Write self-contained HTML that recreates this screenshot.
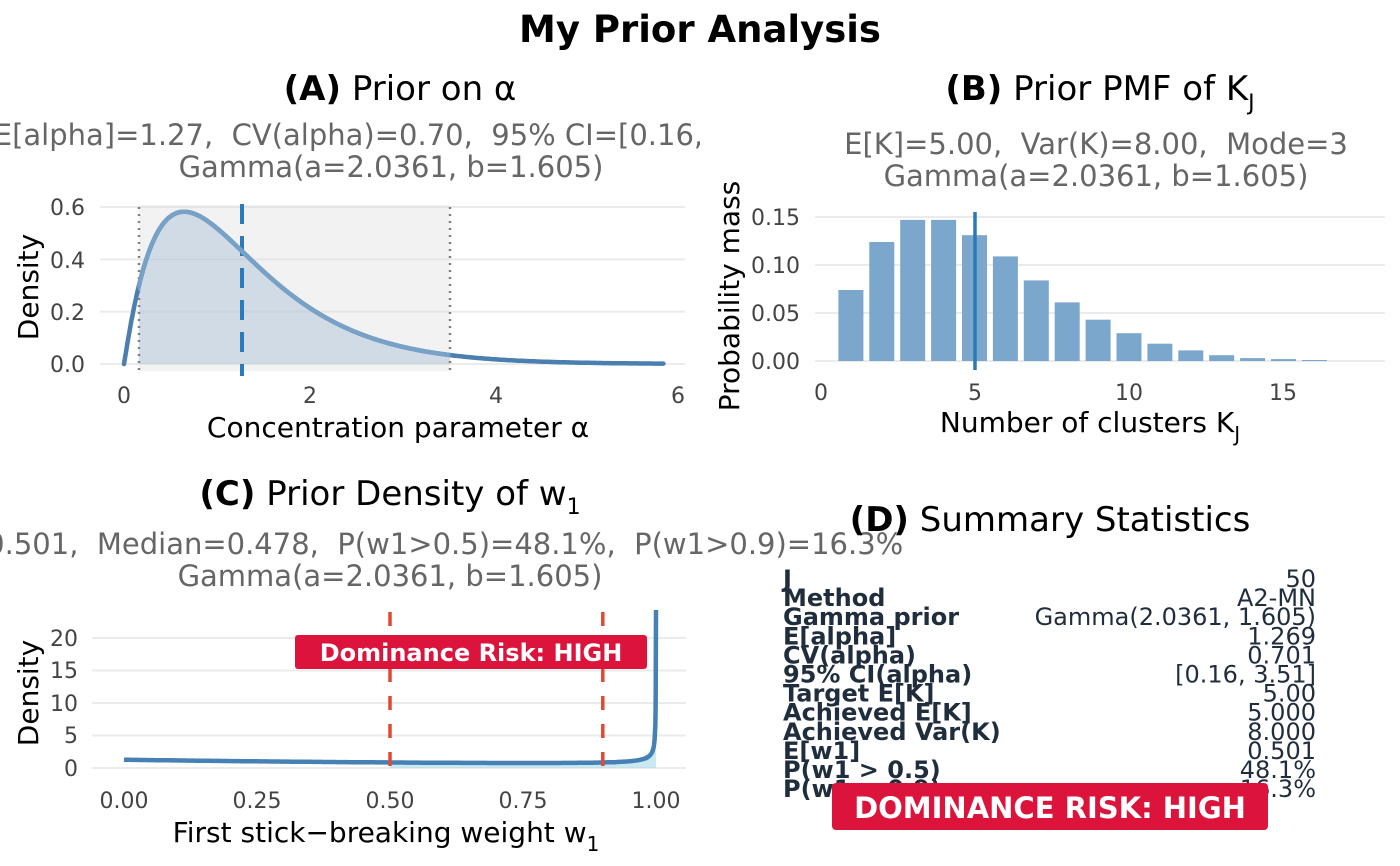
<!DOCTYPE html>
<html><head><meta charset="utf-8"><style>
html,body{margin:0;padding:0;background:#fff;}
svg{display:block;font-family:"DejaVu Sans","Liberation Sans",sans-serif;}
text{white-space:pre;}
.tk{font-size:22px;fill:#444;}
.ax{font-size:28px;fill:#000;}
.pt{font-size:34px;fill:#000;}
.st{font-size:29px;fill:#666;}
.gr{stroke:#ebebeb;stroke-width:2;}
.dl{font-size:24px;fill:#1f2d3d;}
</style></head><body>
<svg id="s" width="1400" height="866" viewBox="0 0 1400 866" xmlns="http://www.w3.org/2000/svg">
<defs>
<clipPath id="cl"><rect x="0" y="0" width="700" height="866"/></clipPath>
</defs>
<text x="700" y="42" text-anchor="middle" font-size="37" font-weight="bold">My Prior Analysis</text>

<!-- Panel A -->
<text class="pt" x="400" y="100" text-anchor="middle"><tspan font-weight="bold">(A)</tspan> Prior on α</text>
<g clip-path="url(#cl)">
<text class="st" x="391" y="145" text-anchor="middle">E[alpha]=1.27,  CV(alpha)=0.70,  95% CI=[0.16, 3.51]</text>
</g>
<text class="st" x="391" y="177" text-anchor="middle">Gamma(a=2.0361, b=1.605)</text>
<g id="gA"></g>
<text class="tk" x="85" y="215" text-anchor="end">0.6</text>
<text class="tk" x="85" y="268" text-anchor="end">0.4</text>
<text class="tk" x="85" y="320" text-anchor="end">0.2</text>
<text class="tk" x="85" y="372" text-anchor="end">0.0</text>
<text class="tk" x="124" y="403" text-anchor="middle">0</text>
<text class="tk" x="310" y="403" text-anchor="middle">2</text>
<text class="tk" x="496" y="403" text-anchor="middle">4</text>
<text class="tk" x="678" y="403" text-anchor="middle">6</text>
<text class="ax" x="398" y="437" text-anchor="middle">Concentration parameter α</text>
<text class="ax" font-size="30" transform="translate(38,287) rotate(-90)" text-anchor="middle">Density</text>

<!-- Panel B -->
<text class="pt" x="1100" y="100" text-anchor="middle"><tspan font-weight="bold">(B)</tspan> Prior PMF of K<tspan font-size="22" dy="10">J</tspan></text>
<text class="st" x="1096" y="154" text-anchor="middle">E[K]=5.00,  Var(K)=8.00,  Mode=3</text>
<text class="st" x="1096" y="186" text-anchor="middle">Gamma(a=2.0361, b=1.605)</text>
<g id="gB"></g>
<text class="tk" x="800" y="225" text-anchor="end">0.15</text>
<text class="tk" x="800" y="273" text-anchor="end">0.10</text>
<text class="tk" x="800" y="321" text-anchor="end">0.05</text>
<text class="tk" x="800" y="369" text-anchor="end">0.00</text>
<text class="tk" x="821" y="400" text-anchor="middle">0</text>
<text class="tk" x="975" y="400" text-anchor="middle">5</text>
<text class="tk" x="1129" y="400" text-anchor="middle">10</text>
<text class="tk" x="1283" y="400" text-anchor="middle">15</text>
<text class="ax" x="1090" y="432" text-anchor="middle">Number of clusters K<tspan font-size="20" dy="9">J</tspan></text>
<text class="ax" font-size="30" transform="translate(739,296) rotate(-90)" text-anchor="middle">Probability mass</text>

<!-- Panel C -->
<text class="pt" x="390" y="505" text-anchor="middle"><tspan font-weight="bold">(C)</tspan> Prior Density of w<tspan font-size="22" dy="9">1</tspan></text>
<text class="st" x="391" y="554" text-anchor="middle">E[w1]=0.501,  Median=0.478,  P(w1&gt;0.5)=48.1%,  P(w1&gt;0.9)=16.3%</text>
<text class="st" x="390" y="586" text-anchor="middle">Gamma(a=2.0361, b=1.605)</text>
<g id="gC"></g>
<text class="tk" x="78" y="646" text-anchor="end">20</text>
<text class="tk" x="78" y="678" text-anchor="end">15</text>
<text class="tk" x="78" y="711" text-anchor="end">10</text>
<text class="tk" x="78" y="743" text-anchor="end">5</text>
<text class="tk" x="78" y="776" text-anchor="end">0</text>
<text class="tk" x="124" y="808" text-anchor="middle">0.00</text>
<text class="tk" x="257" y="808" text-anchor="middle">0.25</text>
<text class="tk" x="390" y="808" text-anchor="middle">0.50</text>
<text class="tk" x="523" y="808" text-anchor="middle">0.75</text>
<text class="tk" x="656" y="808" text-anchor="middle">1.00</text>
<text class="ax" x="386" y="842" text-anchor="middle">First stick−breaking weight w<tspan font-size="20" dy="9">1</tspan></text>
<text class="ax" font-size="30" transform="translate(38,693) rotate(-90)" text-anchor="middle">Density</text>
<rect x="295" y="635" width="352" height="34" rx="3" fill="#dc143c"/>
<text x="471" y="661" text-anchor="middle" font-size="24" font-weight="bold" fill="#fff">Dominance Risk: HIGH</text>

<!-- Panel D -->
<text class="pt" x="1050" y="531" text-anchor="middle"><tspan font-weight="bold">(D)</tspan> Summary Statistics</text>
<g id="gD"></g>
<rect x="832" y="783" width="436" height="47" rx="4" fill="#dc143c"/>
<text x="1050" y="818" text-anchor="middle" font-size="29" font-weight="bold" fill="#fff">DOMINANCE RISK: HIGH</text>
</svg>
<script>
(function(){
var NS="http://www.w3.org/2000/svg";
function el(p,t,a){var e=document.createElementNS(NS,t);for(var k in a)e.setAttribute(k,a[k]);p.appendChild(e);return e;}
var a=2.0361,b=1.605,G=1.0153;
// Panel A
var gA=document.getElementById('gA');
[0,0.2,0.4,0.6].forEach(function(v){var y=364-v*261.7;el(gA,'line',{x1:100,x2:685,y1:y,y2:y,'class':'gr'});});
el(gA,'rect',{x:139,y:205,width:311,height:166,fill:'#d9d9d9','fill-opacity':0.35});
var fx=function(x){return Math.pow(b,a)*Math.pow(x,a-1)*Math.exp(-b*x)/G;};
var X=function(x){return 124+x*93;},Y=function(v){return 364-v*261.7;};
var d="",f="M"+X(0.16)+","+Y(0);
for(var x=0.16;x<=3.51;x+=0.02)f+=" L"+X(x).toFixed(1)+","+Y(fx(x)).toFixed(1);
f+=" L"+X(3.51)+","+Y(0)+"Z";
el(gA,'path',{d:f,fill:'#a9bfd6','fill-opacity':0.45});
el(gA,'line',{x1:139,x2:139,y1:207,y2:372,stroke:'#808080','stroke-width':2.5,'stroke-dasharray':'2,5'});
el(gA,'line',{x1:450,x2:450,y1:207,y2:372,stroke:'#808080','stroke-width':2.5,'stroke-dasharray':'2,5'});
el(gA,'line',{x1:242,x2:242,y1:204,y2:376,stroke:'#2b7bba','stroke-width':4,'stroke-dasharray':'20,12'});
d="M"+X(0)+","+Y(0);for(x=0.01;x<=5.8;x+=0.01)d+=" L"+X(x).toFixed(1)+","+Y(fx(x)).toFixed(1);
el(gA,'path',{d:d,fill:'none',stroke:'#4a7fb0','stroke-width':4.5,'stroke-linecap':'round'});
var d2="M"+X(0.16)+","+Y(fx(0.16));for(x=0.16;x<=3.51;x+=0.01)d2+=" L"+X(x).toFixed(1)+","+Y(fx(x)).toFixed(1);
el(gA,'path',{d:d2,fill:'none',stroke:'#77a1c6','stroke-width':4.5});
// Panel B
var gB=document.getElementById('gB');
[0,0.05,0.1,0.15].forEach(function(v){var y=361-v*960;el(gB,'line',{x1:815,x2:1385,y1:y,y2:y,'class':'gr'});});
var pm=[0.074,0.124,0.147,0.147,0.131,0.109,0.084,0.061,0.043,0.029,0.018,0.011,0.006,0.003,0.002,0.001];
pm.forEach(function(v,i){var k=i+1,cx=820+k*30.9,h=v*960;el(gB,'rect',{x:(cx-12.5).toFixed(1),y:(361-h).toFixed(1),width:25,height:h.toFixed(1),fill:'#7ba7cc'});});
el(gB,'line',{x1:975,x2:975,y1:212,y2:370,stroke:'#2b78b8','stroke-width':3.5});
// Panel C
var gC=document.getElementById('gC');
[0,5,10,15,20].forEach(function(v){var y=768-v*6.5;el(gC,'line',{x1:92,x2:686,y1:y,y2:y,'class':'gr'});});
var CX=function(w){return 124+w*532;},CY=function(v){return 768-v*6.5;};
var fw=function(w){var s=-Math.log(1-w);return a*Math.pow(b,a)/((1-w)*Math.pow(b+s,a+1));};
var ws=[];for(var w=0;w<0.98;w+=0.005)ws.push(w);for(w=0.98;w<0.9995;w+=0.0002)ws.push(w);
var pts=[];ws.forEach(function(w){var v=fw(w);if(v<=24.3)pts.push([CX(w),CY(v)]);});
pts.push([CX(1),CY(24.3)]);
var fa="M"+CX(0.5)+","+CY(0);pts.forEach(function(p){if(p[0]>=CX(0.5))fa+=" L"+p[0].toFixed(1)+","+p[1].toFixed(1);});fa+=" L"+CX(1)+","+CY(0)+"Z";
el(gC,'path',{d:fa,fill:'#a8dbe6','fill-opacity':0.6});
var pc="M"+pts.map(function(p){return p[0].toFixed(1)+","+p[1].toFixed(1);}).join(" L");
el(gC,'path',{d:pc,fill:'none',stroke:'#4680b5','stroke-width':4.5});
[0.5,0.9].forEach(function(w){el(gC,'line',{x1:CX(w),x2:CX(w),y1:612,y2:778,stroke:'#e04a35','stroke-width':3.5,'stroke-dasharray':'14,14'});});
// re-append badge above lines
var s=document.getElementById('s');
// Panel D
var gD=document.getElementById('gD');
var rows=[["J","50"],["Method","A2-MN"],["Gamma prior","Gamma(2.0361, 1.605)"],["E[alpha]","1.269"],["CV(alpha)","0.701"],["95% CI(alpha)","[0.16, 3.51]"],["Target E[K]","5.00"],["Achieved E[K]","5.000"],["Achieved Var(K)","8.000"],["E[w1]","0.501"],["P(w1 > 0.5)","48.1%"],["P(w1 > 0.9)","16.3%"]];
rows.forEach(function(r,i){var y=587+i*19.1;
var t1=el(gD,'text',{x:783,y:y,'class':'dl','font-weight':'bold'});t1.textContent=r[0];
var t2=el(gD,'text',{x:1316,y:y,'class':'dl','text-anchor':'end'});t2.textContent=r[1];});
})();
</script>
</body></html>
